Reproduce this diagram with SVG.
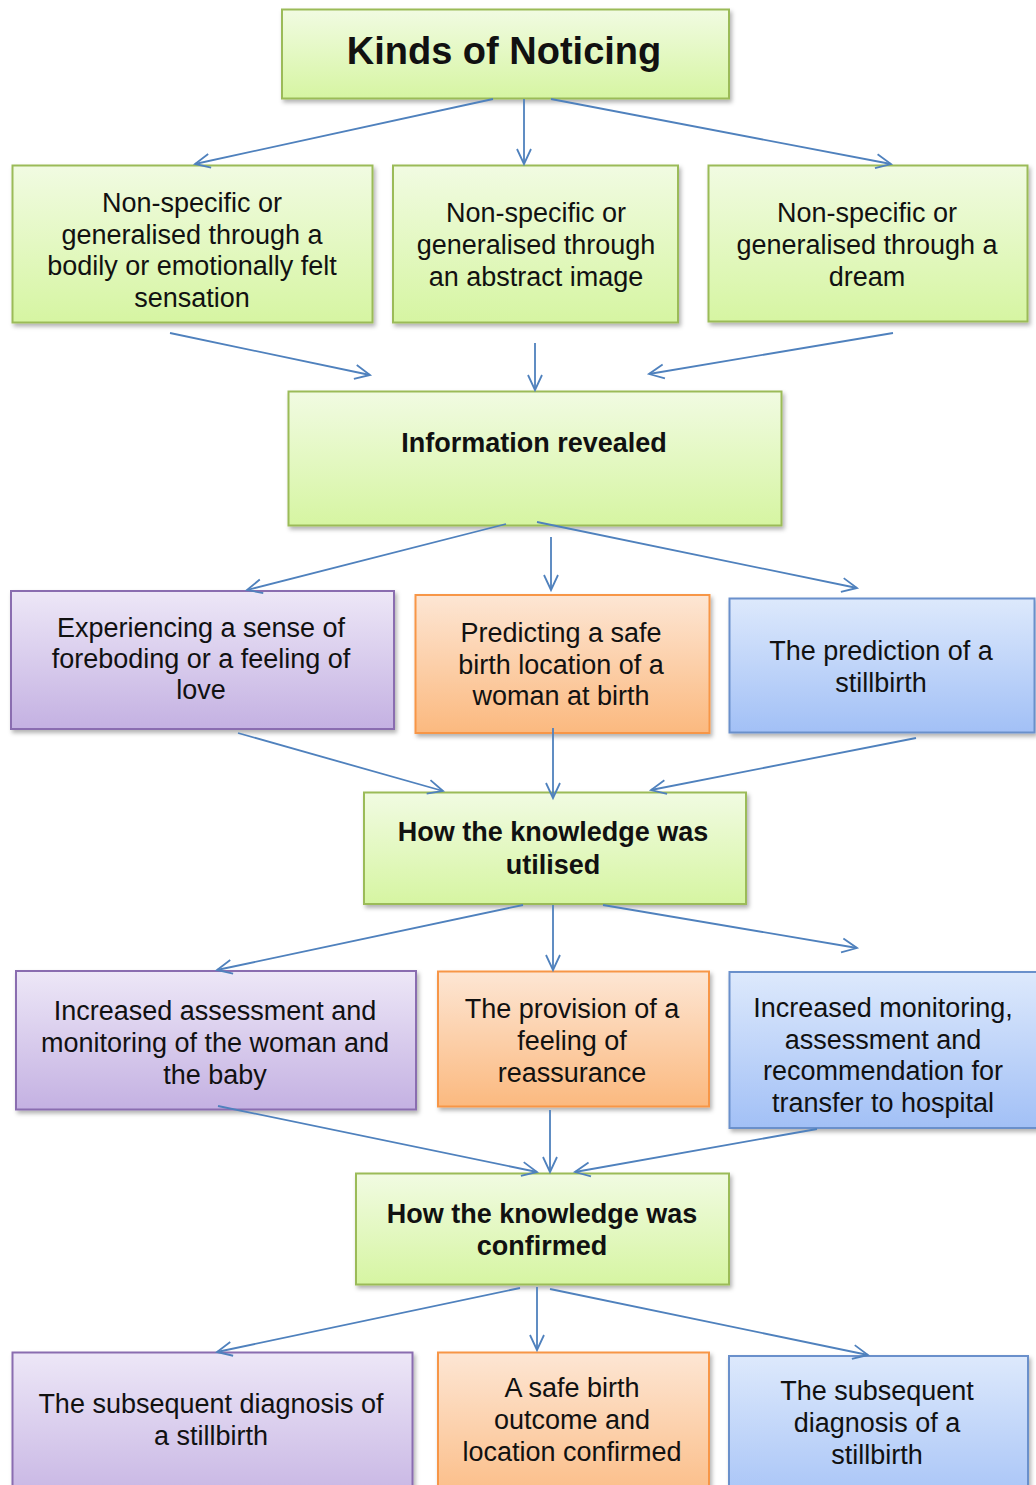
<svg xmlns="http://www.w3.org/2000/svg" width="1036" height="1485" viewBox="0 0 1036 1485">
  <defs>
    <linearGradient id="gGreen" x1="0" y1="0" x2="0" y2="1">
      <stop offset="0" stop-color="#f1fbe2"/>
      <stop offset="1" stop-color="#d6f5a2"/>
    </linearGradient>
    <linearGradient id="gPurple" x1="0" y1="0" x2="0" y2="1">
      <stop offset="0" stop-color="#ede7f7"/>
      <stop offset="1" stop-color="#c4b1e2"/>
    </linearGradient>
    <linearGradient id="gOrange" x1="0" y1="0" x2="0" y2="1">
      <stop offset="0" stop-color="#fde6d4"/>
      <stop offset="1" stop-color="#fbb97f"/>
    </linearGradient>
    <linearGradient id="gBlue" x1="0" y1="0" x2="0" y2="1">
      <stop offset="0" stop-color="#dde9fc"/>
      <stop offset="1" stop-color="#a2c0f6"/>
    </linearGradient>
    <filter id="shadow" x="-10%" y="-10%" width="120%" height="130%">
      <feDropShadow dx="2" dy="3" stdDeviation="2" flood-color="#000" flood-opacity="0.3"/>
    </filter>
    <marker id="arr" markerUnits="userSpaceOnUse" markerWidth="20" markerHeight="20" viewBox="-18 -10 20 20" refX="0" refY="0" orient="auto" overflow="visible">
      <path d="M-15,-7 L0,0 L-15,7" fill="none" stroke="#4f81bd" stroke-width="1.8"/>
    </marker>
  </defs>
  <style>
    .box { stroke-width: 2; filter: url(#shadow); }
    .green { fill: url(#gGreen); stroke: #9bbb59; }
    .purple { fill: url(#gPurple); stroke: #8a6db0; }
    .orange { fill: url(#gOrange); stroke: #f79646; }
    .blue { fill: url(#gBlue); stroke: #6a90cb; }
    .t { font-family: "Liberation Sans", Arial, sans-serif; font-size: 27px; fill: #111; text-anchor: middle; }
    .b { font-weight: bold; }
    .title { font-size: 38px; }
    .conn line { stroke: #4f81bd; stroke-width: 1.8; marker-end: url(#arr); }
  </style>

  <rect width="1036" height="1485" fill="#ffffff"/>

  <!-- level 0 -->
  <g id="kinds">
    <rect class="box green" x="282" y="9.5" width="447" height="89"/>
    <text class="t b title" x="504" y="64">Kinds of Noticing</text>
  </g>

  <!-- level 1: kinds of noticing -->
  <g id="bodily">
    <rect class="box green" x="12.5" y="165.5" width="360" height="157"/>
    <text class="t" x="192" y="212">Non-specific or</text>
    <text class="t" x="192" y="243.5">generalised through a</text>
    <text class="t" x="192" y="275">bodily or emotionally felt</text>
    <text class="t" x="192" y="306.5">sensation</text>
  </g>
  <g id="abstract">
    <rect class="box green" x="393" y="165.5" width="285" height="157"/>
    <text class="t" x="536" y="222">Non-specific or</text>
    <text class="t" x="536" y="254">generalised through</text>
    <text class="t" x="536" y="286">an abstract image</text>
  </g>
  <g id="dream">
    <rect class="box green" x="708.5" y="165.5" width="319" height="156"/>
    <text class="t" x="867" y="222">Non-specific or</text>
    <text class="t" x="867" y="254">generalised through a</text>
    <text class="t" x="867" y="286">dream</text>
  </g>

  <!-- level 2 -->
  <g id="information">
    <rect class="box green" x="288.5" y="391.5" width="493" height="134"/>
    <text class="t b" x="534" y="452">Information revealed</text>
  </g>

  <!-- level 3 -->
  <g id="foreboding">
    <rect class="box purple" x="11" y="591" width="383" height="138"/>
    <text class="t" x="201" y="637">Experiencing a sense of</text>
    <text class="t" x="201" y="668">foreboding or a feeling of</text>
    <text class="t" x="201" y="699">love</text>
  </g>
  <g id="safe-location">
    <rect class="box orange" x="415.5" y="595" width="294" height="138"/>
    <text class="t" x="561" y="642">Predicting a safe</text>
    <text class="t" x="561" y="673.5">birth location of a</text>
    <text class="t" x="561" y="705">woman at birth</text>
  </g>
  <g id="prediction">
    <rect class="box blue" x="729.5" y="598.5" width="305" height="134"/>
    <text class="t" x="881" y="660">The prediction of a</text>
    <text class="t" x="881" y="692">stillbirth</text>
  </g>

  <!-- level 4 -->
  <g id="utilised">
    <rect class="box green" x="364" y="792.5" width="382" height="111.5"/>
    <text class="t b" x="553" y="841">How the knowledge was</text>
    <text class="t b" x="553" y="874">utilised</text>
  </g>

  <!-- level 5 -->
  <g id="assessment">
    <rect class="box purple" x="16" y="971" width="400" height="138.5"/>
    <text class="t" x="215" y="1020">Increased assessment and</text>
    <text class="t" x="215" y="1052">monitoring of the woman and</text>
    <text class="t" x="215" y="1084">the baby</text>
  </g>
  <g id="reassurance">
    <rect class="box orange" x="438" y="971.5" width="271" height="135"/>
    <text class="t" x="572" y="1018">The provision of a</text>
    <text class="t" x="572" y="1050">feeling of</text>
    <text class="t" x="572" y="1082">reassurance</text>
  </g>
  <g id="transfer">
    <rect class="box blue" x="729.5" y="972" width="312" height="156"/>
    <text class="t" x="883" y="1017">Increased monitoring,</text>
    <text class="t" x="883" y="1048.5">assessment and</text>
    <text class="t" x="883" y="1080">recommendation for</text>
    <text class="t" x="883" y="1111.5">transfer to hospital</text>
  </g>

  <!-- level 6 -->
  <g id="confirmed">
    <rect class="box green" x="356" y="1173.5" width="373" height="111"/>
    <text class="t b" x="542" y="1223">How the knowledge was</text>
    <text class="t b" x="542" y="1255">confirmed</text>
  </g>

  <!-- level 7 -->
  <g id="diagnosis-left">
    <rect class="box purple" x="12.5" y="1352.5" width="400" height="160"/>
    <text class="t" x="211" y="1413">The subsequent diagnosis of</text>
    <text class="t" x="211" y="1445">a stillbirth</text>
  </g>
  <g id="safe-outcome">
    <rect class="box orange" x="438" y="1352.5" width="271" height="160"/>
    <text class="t" x="572" y="1397">A safe birth</text>
    <text class="t" x="572" y="1429">outcome and</text>
    <text class="t" x="572" y="1461">location confirmed</text>
  </g>
  <g id="diagnosis-right">
    <rect class="box blue" x="729" y="1356" width="299" height="160"/>
    <text class="t" x="877" y="1400">The subsequent</text>
    <text class="t" x="877" y="1432">diagnosis of a</text>
    <text class="t" x="877" y="1464">stillbirth</text>
  </g>

  <!-- connectors, drawn over the boxes -->
  <g id="connectors" class="conn">
    <line x1="493" y1="99" x2="195" y2="164"/>
    <line x1="524" y1="99" x2="524" y2="164"/>
    <line x1="551" y1="99" x2="891" y2="164"/>

    <line x1="170" y1="333" x2="370" y2="375"/>
    <line x1="535" y1="343" x2="535" y2="390"/>
    <line x1="893" y1="333" x2="649" y2="374"/>

    <line x1="506" y1="524" x2="247" y2="590"/>
    <line x1="551" y1="537" x2="551" y2="590"/>
    <line x1="537" y1="522" x2="857" y2="588"/>

    <line x1="238" y1="733" x2="443" y2="791"/>
    <line x1="553" y1="728" x2="553" y2="798"/>
    <line x1="916" y1="738" x2="651" y2="790"/>

    <line x1="523" y1="905" x2="217" y2="970"/>
    <line x1="553" y1="905" x2="553" y2="970"/>
    <line x1="603" y1="905" x2="857" y2="948"/>

    <line x1="218" y1="1106" x2="537" y2="1172"/>
    <line x1="550" y1="1110" x2="550" y2="1172"/>
    <line x1="817" y1="1129" x2="575" y2="1172"/>

    <line x1="520" y1="1288" x2="217" y2="1352"/>
    <line x1="537" y1="1287" x2="537" y2="1350"/>
    <line x1="550" y1="1289" x2="868" y2="1355"/>
  </g>
</svg>
